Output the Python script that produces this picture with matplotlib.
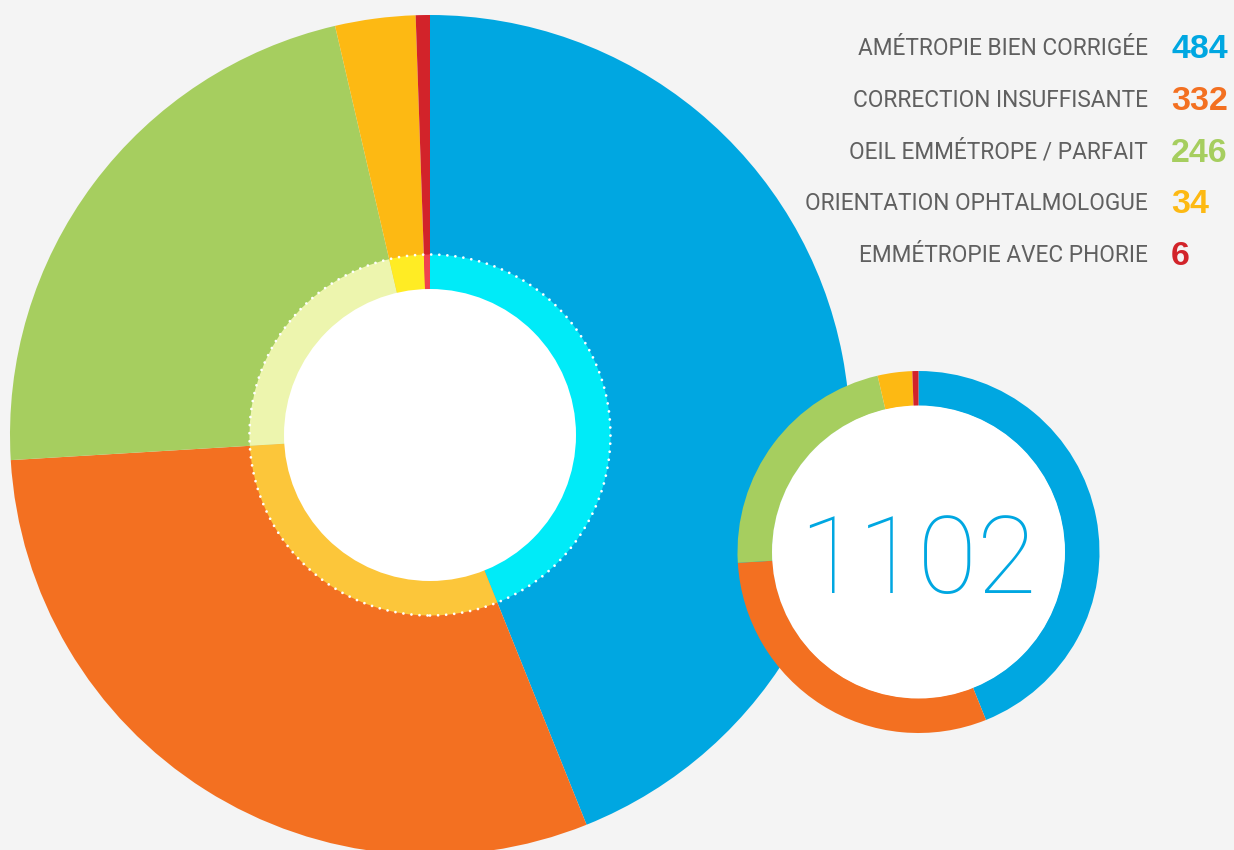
import matplotlib
matplotlib.use("Agg")
import matplotlib.pyplot as plt
from matplotlib.patches import Circle

# data
labels = ["AMÉTROPIE BIEN CORRIGÉE", "CORRECTION INSUFFISANTE", "OEIL EMMÉTROPE / PARFAIT",
          "ORIENTATION OPHTALMOLOGUE", "EMMÉTROPIE AVEC PHORIE"]
values = [484, 332, 246, 34, 6]
total_label = "1102"

colors = ["#00A7E1", "#F37021", "#A6CE5F", "#FDB913", "#D2232A"]
light_colors = ["#00EBF8", "#FCC63A", "#EDF5AE", "#FFEC24", "#F0424F"]
bg = "#F4F4F4"

W, H = 1234, 850


def py(y):
    # pixel row (from top) -> data y
    return H - y


def main():
    fig = plt.figure(figsize=(W / 100, H / 100), dpi=100)
    fig.patch.set_facecolor(bg)
    ax = fig.add_axes([0, 0, 1, 1])
    ax.set_facecolor(bg)

    # big pie
    big_c = (430, py(435))
    ax.pie(values, colors=colors, startangle=90, counterclock=False,
           radius=420, center=big_c, wedgeprops=dict(linewidth=0))
    # inner lighter ring
    ax.pie(values, colors=light_colors, startangle=90, counterclock=False,
           radius=180.5, center=big_c, wedgeprops=dict(linewidth=0))
    ax.add_patch(Circle(big_c, 180.5, fill=False, edgecolor="white", linewidth=2,
                        linestyle=(0, (0.01, 2.9)), capstyle="round", zorder=5))
    ax.add_patch(Circle(big_c, 146, facecolor="white", edgecolor="none", zorder=4))

    # small donut with total
    small_c = (918.5, py(552))
    ax.pie(values, colors=colors, startangle=90, counterclock=False,
           radius=181, center=small_c, wedgeprops=dict(linewidth=0, width=35))
    for w in ax.patches[-len(values):]:
        w.set_zorder(6)
    ax.add_patch(Circle(small_c, 146.5, facecolor="white", edgecolor="none", zorder=6))
    ax.text(small_c[0] - 1, py(593), total_label, color="#00A7E1", fontsize=78,
            family="Roboto", fontweight="light", ha="center", va="baseline", zorder=7)

    # legend
    for i, (lab, val, col) in enumerate(zip(labels, values, colors)):
        y = py(46 + i * 51.8)
        ax.text(1148, y, lab, color="#606060", fontsize=16.3,
                family=["Roboto", "DejaVu Sans"],
                ha="right", va="center_baseline")
        ax.text(1171, y, str(val), color=col, fontsize=24.5, fontweight="bold",
                family=["Liberation Sans", "DejaVu Sans"],
                ha="left", va="center_baseline")

    ax.set_xlim(0, W)
    ax.set_ylim(0, H)
    ax.set_aspect("equal")
    ax.axis("off")
    fig.savefig("out.png", dpi=100, facecolor=bg)


if __name__ == "__main__":
    main()
